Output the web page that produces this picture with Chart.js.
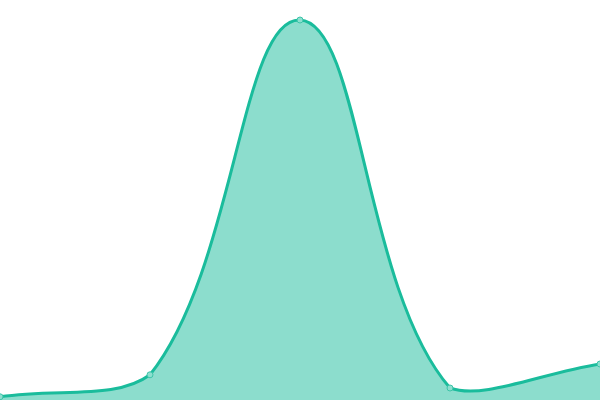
<!DOCTYPE html>
<html>
<head>
<meta charset="utf-8">
<script src="https://cdn.jsdelivr.net/npm/chart.js@4"></script>
<style>
  html, body { margin: 0; padding: 0; background: #fff; }
  #wrap { width: 600px; height: 400px; }
</style>
</head>
<body>
<div id="wrap"><canvas id="chart"></canvas></div>
<script>
const labels = ['A', 'B', 'C', 'D', 'E'];
const values = [0.8, 6.3, 95, 3, 9];

const ctx = document.getElementById('chart');

new Chart(ctx, {
  type: 'line',
  data: {
    labels: labels,
    datasets: [
      {
        data: values,
        borderColor: '#1abc9c',
        backgroundColor: 'rgba(26, 188, 156, 0.5)',
        pointBackgroundColor: '#8ddfcf',
        pointBorderColor: '#3cc4a8',
        pointRadius: 3,
        pointBorderWidth: 1,
        borderWidth: 3,
        tension: 0.4,
        fill: true,
      },
    ],
  },
  options: {
    responsive: true,
    maintainAspectRatio: false,
    animation: false,
    layout: { padding: 0, autoPadding: false },
    scales: {
      x: { display: false, offset: false },
      y: { display: false, min: 0, max: 100 },
    },
    plugins: {
      legend: { display: false },
      tooltip: { enabled: false },
    },
  },
});
</script>
</body>
</html>
